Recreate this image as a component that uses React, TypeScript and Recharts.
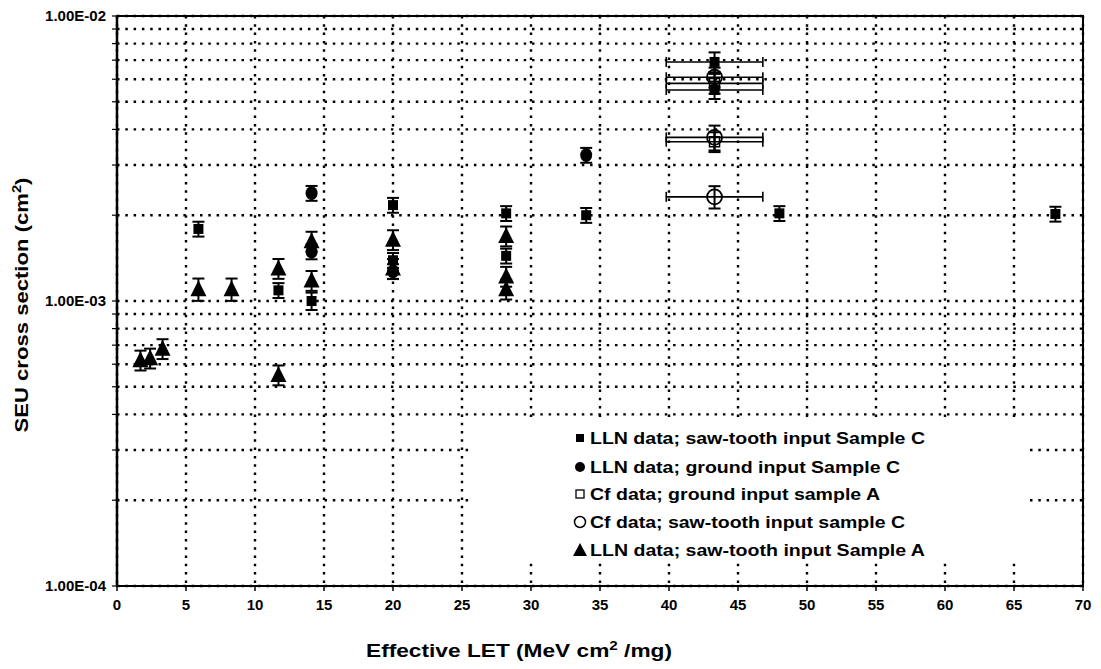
import React from 'react';
import { ScatterChart, Scatter, XAxis, YAxis, CartesianGrid, ErrorBar, Legend, ReferenceArea } from 'recharts';

const FONT = "'Liberation Sans', Arial, sans-serif";

// LLN data; saw-tooth input Sample C (filled squares)
const llnSawCX = [5.9, 11.7, 14.1, 20.0, 20.0, 28.2, 28.2, 34.0, 48.0, 68.0];
const llnSawCY = [1.79e-3, 1.09e-3, 1.0e-3, 2.17e-3, 1.39e-3, 2.03e-3, 1.44e-3, 2.0e-3, 2.03e-3, 2.02e-3];
const llnSawCErr = [6, 6, 7, 6, 6, 6, 6, 6, 6, 6]; // % of value

// LLN data; ground input Sample C (filled circles)
const llnGndCX = [14.1, 14.1, 20.0, 34.0];
const llnGndCY = [2.39e-3, 1.49e-3, 1.27e-3, 3.25e-3];
const llnGndCErr = [6, 6, 6, 6];

// filled squares at the Cf point (with LET bars)
const cfFilledX = [43.3, 43.3];
const cfFilledY = [6.9e-3, 5.5e-3];
const cfFilledErr = [8, 7];

// Cf data; ground input sample A (open squares)
const cfGndAX = [43.3, 43.3];
const cfGndAY = [5.8e-3, 3.62e-3];
const cfGndAErr = [8, 8];

// Cf data; saw-tooth input sample C (open circles)
const cfSawCX = [43.3, 43.3, 43.3];
const cfSawCY = [6.1e-3, 3.75e-3, 2.32e-3];
const cfSawCErr = [8, 10, 9];
const cfLetErr = 3.5;

// LLN data; saw-tooth input Sample A (filled triangles)
const llnSawAX = [1.7, 2.4, 3.3, 5.9, 8.3, 11.7, 11.7, 14.1, 14.1, 20.0, 20.0, 28.2, 28.2, 28.2];
const llnSawAY = [0.62e-3, 0.63e-3, 0.68e-3, 1.1e-3, 1.1e-3, 1.3e-3, 0.55e-3, 1.62e-3, 1.18e-3, 1.64e-3, 1.3e-3, 1.69e-3, 1.22e-3, 1.1e-3];
const llnSawAErr = [8, 8, 8, 9, 9, 8, 8, 8, 8, 8, 8, 8, 8, 8];

const xTicks = [0, 5, 10, 15, 20, 25, 30, 35, 40, 45, 50, 55, 60, 65, 70];
const yTicks = [
  1e-4, 2e-4, 3e-4, 4e-4, 5e-4, 6e-4, 7e-4, 8e-4, 9e-4,
  1e-3, 2e-3, 3e-3, 4e-3, 5e-3, 6e-3, 7e-3, 8e-3, 9e-3, 1e-2,
];
const yTickLabels = [
  '1.00E-04', '', '', '', '', '', '', '', '',
  '1.00E-03', '', '', '', '', '', '', '', '', '1.00E-02',
];

const legendLabels = [
  'LLN data; saw-tooth input Sample C',
  'LLN data; ground input Sample C',
  'Cf data; ground input sample A',
  'Cf data; saw-tooth input sample C',
  'LLN data; saw-tooth input Sample A',
];

const toPoints = (xs: number[], ys: number[], errs: number[], xErr?: number) =>
  xs.map((x, i) => ({
    x,
    y: ys[i],
    err: [(ys[i] * errs[i]) / 100, (ys[i] * errs[i]) / 100],
    xerr: xErr ?? 0,
  }));

const Square = ({ cx, cy }: any) => <rect x={cx - 5} y={cy - 5} width={10} height={10} fill="#000" />;
const Dot = ({ cx, cy }: any) => <ellipse cx={cx} cy={cy} rx={6} ry={7} fill="#000" />;
const OpenSquare = ({ cx, cy }: any) => (
  <rect x={cx - 5} y={cy - 5} width={10} height={10} fill="none" stroke="#000" strokeWidth={1.5} />
);
const OpenCircle = ({ cx, cy }: any) => (
  <circle cx={cx} cy={cy} r={7.5} fill="none" stroke="#000" strokeWidth={1.8} />
);
const Triangle = ({ cx, cy }: any) => (
  <path d={`M${cx},${cy - 9} L${cx + 8},${cy + 7} L${cx - 8},${cy + 7} Z`} fill="#000" />
);

const YTick = ({ x, y, payload }: any) => {
  const lbl = yTickLabels[yTicks.indexOf(payload.value)];
  if (!lbl) return <g />;
  return (
    <text x={x - 4} y={y + 5} textAnchor="end" fontFamily={FONT} fontWeight="bold" fontSize={15} fill="#000">
      {lbl}
    </text>
  );
};

const XTick = ({ x, y, payload }: any) => (
  <text x={x} y={y + 17} textAnchor="middle" fontFamily={FONT} fontWeight="bold" fontSize={15} fill="#000">
    {payload.value}
  </text>
);

const legendRowY = [18, 47, 74, 102, 130];
const legendWidths = [335, 310, 290, 315, 335];

const LegendBox = () => {
  const mx = 110;
  return (
    <svg width={560} height={143} style={{ display: 'block', background: '#fff' }}>
      <rect x={mx - 4} y={legendRowY[0] - 4} width={8} height={8} fill="#000" />
      <circle cx={mx} cy={legendRowY[1]} r={5} fill="#000" />
      <rect x={mx - 4} y={legendRowY[2] - 4} width={8} height={8} fill="none" stroke="#000" strokeWidth={1.3} />
      <circle cx={mx} cy={legendRowY[3]} r={5.5} fill="none" stroke="#000" strokeWidth={1.5} />
      <path
        d={`M${mx},${legendRowY[4] - 7} L${mx + 7},${legendRowY[4] + 6} L${mx - 7},${legendRowY[4] + 6} Z`}
        fill="#000"
      />
      {legendLabels.map((t, i) => (
        <text
          key={t}
          x={120}
          y={legendRowY[i] + 6}
          fontFamily={FONT}
          fontWeight="bold"
          fontSize={17}
          textLength={legendWidths[i]}
          lengthAdjust="spacingAndGlyphs"
          fill="#000"
        >
          {t}
        </text>
      ))}
    </svg>
  );
};

export default function App() {
  return (
    <div style={{ width: 1101, height: 669, position: 'relative', background: '#fff' }}>
      <style>{'body{margin:0;}'}</style>
      <ScatterChart width={1101} height={669} margin={{ top: 16, right: 18, left: 17, bottom: 23 }}>
        <CartesianGrid stroke="#000" strokeWidth={2.4} strokeDasharray="2.5 5.8" />
        <XAxis
          type="number"
          dataKey="x"
          domain={[0, 70]}
          ticks={xTicks}
          interval={0}
          height={60}
          tick={<XTick />}
          tickSize={5}
          axisLine={{ stroke: '#000', strokeWidth: 2 }}
          tickLine={{ stroke: '#000', strokeWidth: 1.5 }}
          allowDataOverflow
        />
        <YAxis
          type="number"
          dataKey="y"
          scale="log"
          domain={[1e-4, 1e-2]}
          ticks={yTicks}
          interval={0}
          width={100}
          tick={<YTick />}
          tickSize={5}
          axisLine={{ stroke: '#000', strokeWidth: 2.5 }}
          tickLine={{ stroke: '#000', strokeWidth: 1.2 }}
          allowDataOverflow
        />
        <ReferenceArea x1={0} x2={70} y1={1e-4} y2={1e-2} fill="none" stroke="#000" strokeWidth={2} />
        <Legend
          verticalAlign="middle"
          align="center"
          content={<LegendBox />}
          wrapperStyle={{ left: 470, top: 420, width: 560, height: 143 }}
        />
        <Scatter data={toPoints(llnSawAX, llnSawAY, llnSawAErr)} shape={<Triangle />} isAnimationActive={false}>
          <ErrorBar dataKey="err" direction="y" width={6} stroke="#000" strokeWidth={2} />
        </Scatter>
        <Scatter data={toPoints(llnSawCX, llnSawCY, llnSawCErr)} shape={<Square />} isAnimationActive={false}>
          <ErrorBar dataKey="err" direction="y" width={6} stroke="#000" strokeWidth={2} />
        </Scatter>
        <Scatter data={toPoints(llnGndCX, llnGndCY, llnGndCErr)} shape={<Dot />} isAnimationActive={false}>
          <ErrorBar dataKey="err" direction="y" width={6} stroke="#000" strokeWidth={2} />
        </Scatter>
        <Scatter data={toPoints(cfFilledX, cfFilledY, cfFilledErr, cfLetErr)} shape={<Square />} isAnimationActive={false}>
          <ErrorBar dataKey="err" direction="y" width={6} stroke="#000" strokeWidth={2} />
          <ErrorBar dataKey="xerr" direction="x" width={5} stroke="#000" strokeWidth={1.6} />
        </Scatter>
        <Scatter data={toPoints(cfGndAX, cfGndAY, cfGndAErr, cfLetErr)} shape={<OpenSquare />} isAnimationActive={false}>
          <ErrorBar dataKey="err" direction="y" width={6} stroke="#000" strokeWidth={2} />
          <ErrorBar dataKey="xerr" direction="x" width={5} stroke="#000" strokeWidth={1.6} />
        </Scatter>
        <Scatter data={toPoints(cfSawCX, cfSawCY, cfSawCErr, cfLetErr)} shape={<OpenCircle />} isAnimationActive={false}>
          <ErrorBar dataKey="err" direction="y" width={6} stroke="#000" strokeWidth={2} />
          <ErrorBar dataKey="xerr" direction="x" width={5} stroke="#000" strokeWidth={1.6} />
        </Scatter>
        <text
          x={519}
          y={657}
          textAnchor="middle"
          fontFamily={FONT}
          fontWeight="bold"
          fontSize={18}
          textLength={306}
          lengthAdjust="spacingAndGlyphs"
          fill="#000"
        >
          Effective LET (MeV cm
          <tspan dy={-7} fontSize={12}>2</tspan>
          <tspan dy={7}> /mg)</tspan>
        </text>
        <text
          transform="translate(28,305) rotate(-90)"
          textAnchor="middle"
          fontFamily={FONT}
          fontWeight="bold"
          fontSize={18}
          textLength={255}
          lengthAdjust="spacingAndGlyphs"
          fill="#000"
        >
          SEU cross section (cm
          <tspan dy={-7} fontSize={12}>2</tspan>
          <tspan dy={7}>)</tspan>
        </text>
      </ScatterChart>
    </div>
  );
}
